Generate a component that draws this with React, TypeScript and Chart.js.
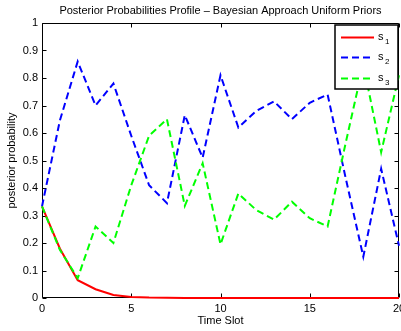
import React, { useEffect, useRef } from "react";
import { Chart, registerables } from "chart.js";

Chart.register(...registerables);

// Time slots on the horizontal axis
const timeSlots = [0, 1, 2, 3, 4, 5, 6, 7, 8, 9, 10, 11, 12, 13, 14, 15, 16, 17, 18, 19, 20];

// Posterior probability of each state per time slot
const s1Values = [0.333, 0.18, 0.065, 0.032, 0.011, 0.004, 0.0015, 0.0005, 0, 0, 0, 0, 0, 0, 0, 0, 0, 0, 0, 0, 0];
const s2Values = [0.333, 0.645, 0.86, 0.7, 0.78, 0.59, 0.41, 0.345, 0.665, 0.51, 0.81, 0.62, 0.68, 0.715, 0.65, 0.71, 0.74, 0.44, 0.15, 0.47, 0.19];
const s3Values = [0.333, 0.175, 0.072, 0.26, 0.2, 0.41, 0.59, 0.65, 0.335, 0.49, 0.195, 0.38, 0.32, 0.285, 0.35, 0.29, 0.26, 0.56, 0.85, 0.53, 0.81];

// Legend entries: base letter plus subscript index
const seriesBase = ["s", "s", "s"];
const seriesIndex = ["1", "2", "3"];
const seriesColors = ["#ff0000", "#0000ff", "#00ff00"];

// Tick values and texts
const xTickValues = [0, 5, 10, 15, 20];
const yTickValues = [0, 0.1, 0.2, 0.3, 0.4, 0.5, 0.6, 0.7, 0.8, 0.9, 1];

const titleText = "Posterior Probabilities Profile \u2013 Bayesian Approach Uniform Priors";
const xTitle = "Time Slot";
const yTitle = "posterior probability";

const FONT = '"Liberation Sans", Arial, Helvetica, sans-serif';

const fmt = (v: number) => String(Math.round(v * 10) / 10);

// Boxed axes with inward ticks on all four sides, labels, title and legend
const matlabAxes = {
  id: "matlabAxes",
  beforeDatasetsDraw(chart: any) {
    const { ctx, chartArea: a, scales } = chart;
    const xs = scales.x;
    const ys = scales.y;
    const L = a.left + 0.5;
    const R = a.right - 0.5;
    const T = a.top + 0.5;
    const B = a.bottom - 0.5;
    const tl = 4;
    ctx.save();
    ctx.strokeStyle = "#000";
    ctx.lineWidth = 1;
    ctx.beginPath();
    ctx.rect(L, T, R - L, B - T);
    for (const v of xTickValues) {
      const px = Math.round(xs.getPixelForValue(v)) + 0.5;
      ctx.moveTo(px, B);
      ctx.lineTo(px, B - tl);
      ctx.moveTo(px, T);
      ctx.lineTo(px, T + tl);
    }
    for (const v of yTickValues) {
      const py = Math.round(ys.getPixelForValue(v)) + 0.5;
      ctx.moveTo(L, py);
      ctx.lineTo(L + tl, py);
      ctx.moveTo(R, py);
      ctx.lineTo(R - tl, py);
    }
    ctx.stroke();
    ctx.restore();
  },
  afterDatasetsDraw(chart: any) {
    const { ctx, chartArea: a } = chart;
    const w = 63;
    const h = 64;
    const x0 = a.right - w - 1;
    const y0 = a.top + 2;
    ctx.save();
    ctx.fillStyle = "#fff";
    ctx.fillRect(x0, y0, w, h);
    ctx.strokeStyle = "#000";
    ctx.lineWidth = 1.5;
    ctx.strokeRect(x0, y0, w, h);
    chart.data.datasets.forEach((ds: any, i: number) => {
      const cy = Math.round(y0 + 12 + i * 20.3) + 0.5;
      ctx.beginPath();
      ctx.strokeStyle = ds.borderColor;
      ctx.lineWidth = ds.borderWidth;
      ctx.setLineDash(ds.borderDash || []);
      ctx.moveTo(x0 + 6, cy);
      ctx.lineTo(x0 + 39, cy);
      ctx.stroke();
      ctx.setLineDash([]);
      ctx.fillStyle = "#000";
      ctx.textBaseline = "alphabetic";
      ctx.textAlign = "left";
      ctx.font = `11px ${FONT}`;
      ctx.fillText(seriesBase[i], x0 + 43, cy + 2);
      ctx.font = `8px ${FONT}`;
      ctx.fillText(seriesIndex[i], x0 + 50, cy + 6);
    });
    ctx.restore();
  },
  afterDraw(chart: any) {
    const { ctx, chartArea: a, scales } = chart;
    const xs = scales.x;
    const ys = scales.y;
    ctx.save();
    ctx.fillStyle = "#000";
    ctx.font = `11px ${FONT}`;
    ctx.textAlign = "center";
    ctx.textBaseline = "top";
    for (const v of xTickValues) {
      ctx.fillText(fmt(v), xs.getPixelForValue(v), a.bottom + 5);
    }
    ctx.textAlign = "right";
    ctx.textBaseline = "middle";
    for (const v of yTickValues) {
      ctx.fillText(fmt(v), a.left - 4, ys.getPixelForValue(v));
    }
    const cx = (a.left + a.right) / 2;
    ctx.textAlign = "center";
    ctx.textBaseline = "middle";
    ctx.fillText(titleText, cx, 11);
    ctx.fillText(xTitle, cx, 321);
    ctx.translate(12, (a.top + a.bottom) / 2);
    ctx.rotate(-Math.PI / 2);
    ctx.fillText(yTitle, 0, 0);
    ctx.restore();
  },
};

export default function App() {
  const ref = useRef<HTMLCanvasElement>(null);

  useEffect(() => {
    document.body.style.margin = "0";
    const toPoints = (vals: number[]) => timeSlots.map((t, i) => ({ x: t, y: vals[i] }));
    const chart = new Chart(ref.current as HTMLCanvasElement, {
      type: "line",
      data: {
        datasets: [
          {
            label: "s1",
            data: toPoints(s1Values),
            borderColor: seriesColors[0],
            borderWidth: 2,
            pointRadius: 0,
            tension: 0,
            clip: 4,
            order: 3,
          },
          {
            label: "s2",
            data: toPoints(s2Values),
            borderColor: seriesColors[1],
            borderWidth: 2,
            borderDash: [7, 4],
            pointRadius: 0,
            tension: 0,
            clip: 4,
            order: 2,
          },
          {
            label: "s3",
            data: toPoints(s3Values),
            borderColor: seriesColors[2],
            borderWidth: 2,
            borderDash: [7, 4],
            pointRadius: 0,
            tension: 0,
            clip: 4,
            order: 1,
          },
        ],
      },
      options: {
        responsive: false,
        animation: false,
        devicePixelRatio: 1,
        layout: { padding: { left: 42, top: 23, right: 2, bottom: 33 } },
        plugins: { legend: { display: false }, tooltip: { enabled: false }, title: { display: false } },
        scales: {
          x: { type: "linear", min: 0, max: 20, display: false },
          y: { type: "linear", min: 0, max: 1, display: false },
        },
      },
      plugins: [matlabAxes],
    } as any);
    return () => chart.destroy();
  }, []);

  return (
    <div style={{ width: 401, height: 331, background: "#fff" }}>
      <canvas ref={ref} width={401} height={331} style={{ display: "block" }} />
    </div>
  );
}
